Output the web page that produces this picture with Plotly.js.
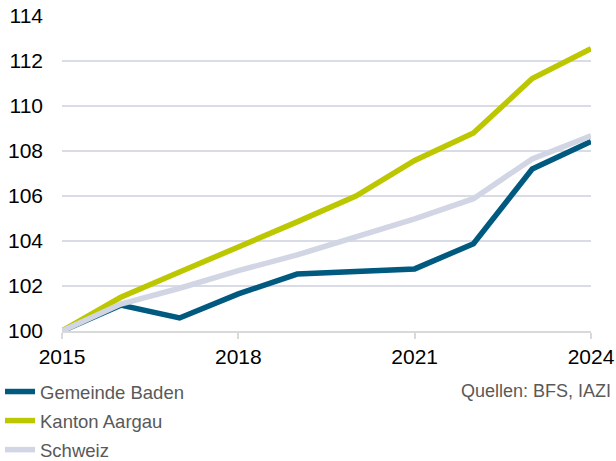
<!DOCTYPE html>
<html><head><meta charset="utf-8">
<script src="https://cdn.plot.ly/plotly-3.0.1.min.js"></script>
<style>html,body{margin:0;padding:0;background:#fff}#chart{width:616px;height:461px}</style>
</head><body><div id="chart"></div>
<script>
const years = [2015, 2016, 2017, 2018, 2019, 2020, 2021, 2022, 2023, 2024];
const baden = [100, 101.15, 100.58, 101.65, 102.53, 102.64, 102.76, 103.88, 107.2, 108.42];
const aargau = [100, 101.5, 102.62, 103.72, 104.85, 106.0, 107.58, 108.8, 111.22, 112.55];
const schweiz = [100, 101.2, 101.9, 102.68, 103.38, 104.15, 104.98, 105.88, 107.65, 108.68];
const seriesNames = ['Gemeinde Baden', 'Kanton Aargau', 'Schweiz'];
const yTicks = [100, 102, 104, 106, 108, 110, 112, 114];
const xTicks = [2015, 2018, 2021, 2024];
const sourceText = 'Quellen: BFS, IAZI';

const colors = ['#005a80', '#bdc700', '#d2d5e4'];
const traces = [baden, aargau, schweiz].map((v, i) => ({
  x: years, y: v, type: 'scatter', mode: 'lines', name: seriesNames[i],
  legendgroup: 'g' + i,
  line: {color: colors[i], width: 5.5, shape: 'linear'}, cliponaxis: false
}));

const plotL = 62, plotR = 591, plotT = 16, plotB = 331;
const pw = plotR - plotL, ph = plotB - plotT;

const layout = {
  width: 616, height: 461,
  margin: {l: plotL, r: 616 - plotR, t: plotT, b: 461 - plotB, autoexpand: false},
  paper_bgcolor: '#fff', plot_bgcolor: '#fff',
  font: {family: 'Liberation Sans, Arial, sans-serif', color: '#000'},
  showlegend: true,
  legend: {x: (0 - plotL) / pw, y: (plotB - 373) / ph, xanchor: 'left', yanchor: 'top', orientation: 'v',
    font: {size: 18.5, color: '#595959'}, tracegroupgap: 2, bgcolor: 'rgba(0,0,0,0)'},
  xaxis: {range: [2015, 2024], tickvals: xTicks, ticktext: xTicks.map(String), automargin: false,
    showgrid: false, zeroline: false, showline: true, linecolor: '#d9d9d9', linewidth: 2,
    ticks: 'outside', ticklen: 6, tickwidth: 2, tickcolor: '#d9d9d9',
    tickfont: {size: 21, color: '#000'}, fixedrange: true},
  yaxis: {range: [100, 114], tickvals: yTicks, ticktext: yTicks.map(String), automargin: false,
    showgrid: true, gridcolor: '#d9dbe7', gridwidth: 2, zeroline: false, showline: false,
    ticks: '', ticklabelstandoff: 18,
    tickfont: {size: 21, color: '#000'}, fixedrange: true},
  annotations: [{xref: 'paper', yref: 'paper', x: (613 - plotL) / pw, y: (plotB - 391) / ph, xanchor: 'right', yanchor: 'middle',
    text: sourceText, showarrow: false, font: {size: 18, color: '#595959'}}]
};
Plotly.newPlot('chart', traces, layout, {displayModeBar: false, staticPlot: true});
</script></body></html>
